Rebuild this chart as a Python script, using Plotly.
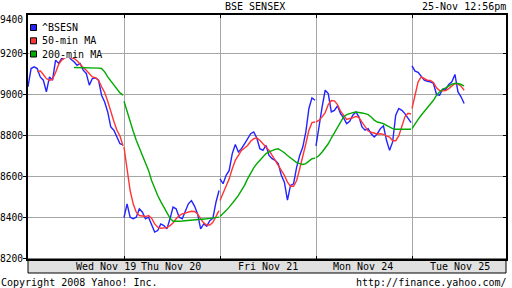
import plotly.graph_objects as go

# ---------------- data ----------------
DAYS = ["Wed Nov 19", "Thu Nov 20", "Fri Nov 21", "Mon Nov 24", "Tue Nov 25"]
SAMPLES_PER_DAY = 32          # samples spread over each trading session
SESSION_SPAN = 0.99           # fraction of the day slot covered by the samples

bsesn_wed = [9038, 9127, 9135, 9127, 9086, 9070, 9013, 9086, 9070, 9168, 9152, 9176, 9180, 9190, 9172, 9160,
             9143, 9152, 9119, 9103, 9046, 9078, 9082, 9070, 8997, 8964, 8915, 8842, 8826, 8793, 8760, 8755]
bsesn_thu = [8400, 8467, 8402, 8394, 8402, 8443, 8426, 8394, 8402, 8361, 8329, 8337, 8369, 8361, 8345, 8394,
             8451, 8443, 8402, 8394, 8434, 8467, 8483, 8456, 8418, 8345, 8369, 8358, 8385, 8397, 8475, 8532]
bsesn_fri = [8589, 8565, 8606, 8630, 8712, 8756, 8720, 8736, 8760, 8785, 8809, 8818, 8788, 8736, 8728, 8752,
             8703, 8687, 8679, 8663, 8606, 8573, 8485, 8557, 8565, 8646, 8703, 8744, 8818, 8932, 8984, 8972]
bsesn_mon = [8750, 8850, 8940, 9021, 9005, 8915, 8923, 8945, 8907, 8886, 8858, 8870, 8899, 8915, 8891, 8842,
             8826, 8834, 8809, 8793, 8809, 8834, 8847, 8777, 8728, 8769, 8899, 8932, 8923, 8907, 8883, 8863]
bsesn_tue = [9140, 9114, 9108, 9090, 9070, 9065, 9062, 9054, 9000, 8997, 9026, 9026, 9049, 9062, 9098, 9013,
             8989, 8956]

ma50_wed = [None, None, None, 9111, 9116, 9098, 9078, 9069, 9075, 9108, 9147, 9168, 9179, 9184, 9181, 9176,
            9165, 9147, 9132, 9119, 9103, 9086, 9082, 9070, 9038, 9010, 8967, 8915, 8870, 8826, 8798, 8749]
ma50_thu = [8744, 8630, 8532, 8467, 8426, 8410, 8407, 8405, 8410, 8397, 8369, 8353, 8348, 8348, 8351, 8361,
            8374, 8394, 8410, 8418, 8423, 8426, 8431, 8430, 8418, 8394, 8374, 8364, 8364, 8377, 8407, 8434]
ma50_fri = [8483, 8516, 8549, 8589, 8638, 8679, 8703, 8728, 8739, 8752, 8772, 8785, 8788, 8777, 8760, 8744,
            8728, 8703, 8679, 8654, 8630, 8606, 8573, 8553, 8553, 8581, 8638, 8695, 8760, 8826, 8863, 8866]
ma50_mon = [8866, 8875, 8891, 8912, 8951, 8971, 8969, 8951, 8919, 8896, 8879, 8883, 8886, 8894, 8888, 8866,
            8842, 8822, 8816, 8813, 8808, 8809, 8806, 8798, 8793, 8775, 8775, 8798, 8850, 8891, 8909, 8905]
ma50_tue = [8932, 8997, 9062, 9086, 9078, 9070, 9069, 9059, 9033, 9020, 9018, 9020, 9029, 9042, 9054, 9051,
            9041, 9021]

ma200_wed = [None] * 15 + [9132, 9132, 9132, 9132, 9132, 9131, 9131, 9130, 9129, 9127, 9111, 9086, 9065,
                           9045, 9025, 9008, 8997]
ma200_thu = [8967, 8915, 8870, 8821, 8777, 8739, 8703, 8671, 8630, 8581, 8540, 8508, 8478, 8451, 8423, 8397,
             8382, 8381, 8382, 8383, 8384, 8385, 8386, 8387, 8389, 8391, 8392, 8394, 8396, 8397, 8399, 8402]
ma200_fri = [8405, 8418, 8434, 8451, 8467, 8488, 8508, 8532, 8557, 8589, 8619, 8642, 8663, 8679, 8695, 8712,
             8720, 8728, 8733, 8736, 8728, 8716, 8703, 8690, 8677, 8668, 8663, 8659, 8663, 8674, 8687, 8690]
ma200_mon = [8692, 8703, 8720, 8739, 8760, 8788, 8814, 8837, 8866, 8891, 8902, 8909, 8912, 8915, 8914, 8910,
             8907, 8902, 8891, 8875, 8866, 8863, 8858, 8850, 8842, 8834, 8831, 8831, 8831, 8831, 8831, 8831]
ma200_tue = [8834, 8858, 8879, 8899, 8919, 8935, 8954, 8972, 8997, 9013, 9026, 9033, 9041, 9051, 9054, 9054,
             9049, 9042]

Y_TICKS = [8200, 8400, 8600, 8800, 9000, 9200]
Y_TICK_TEXT = ["8200", "8400", "8600", "8800", "9000", "9200"]
Y_TOP_LABEL = "9400"
TITLE = "BSE SENSEX"
STAMP = "25-Nov 12:56pm"
COPYRIGHT = "Copyright 2008 Yahoo! Inc."
URL = "http://finance.yahoo.com/"
SERIES_NAMES = ["^BSESN", "50-min MA", "200-min MA"]
COLORS = ["#2323ff", "#ff3535", "#00aa00"]

bsesn = [bsesn_wed, bsesn_thu, bsesn_fri, bsesn_mon, bsesn_tue]
ma50 = [ma50_wed, ma50_thu, ma50_fri, ma50_mon, ma50_tue]
ma200 = [ma200_wed, ma200_thu, ma200_fri, ma200_mon, ma200_tue]


def build(days):
    xs, ys = [], []
    for d, vals in enumerate(days):
        for i, v in enumerate(vals):
            xs.append(d + SESSION_SPAN * i / (SAMPLES_PER_DAY - 1))
            ys.append(v)
        xs.append(None)
        ys.append(None)
    return xs, ys


# ---------------- geometry helpers (pixel -> paper) ----------------
W, H = 512, 288
L, R, T, B = 28, 506, 15, 259
PW, PH = R - L, B - T
X_MAX = PW / 96.0            # one trading day = 96 px


def fx(px):
    return (px - L) / PW


def fy(py):
    return (B - py) / PH


FONT = "DejaVu Sans Mono"
TXT = dict(family=FONT, size=10, color="black")

fig = go.Figure()
for name, series, color in zip(SERIES_NAMES, [bsesn, ma50, ma200], COLORS):
    xs, ys = build(series)
    fig.add_trace(go.Scatter(x=xs, y=ys, mode="lines", name=name, showlegend=False,
                             line=dict(color=color, width=1.4), connectgaps=False,
                             hoverinfo="skip"))
# invisible trace so the right-hand tick axis is drawn
fig.add_trace(go.Scatter(x=[0.5], y=[8800], mode="markers", yaxis="y2", showlegend=False,
                         marker=dict(opacity=0), hoverinfo="skip"))

shapes = [
    # date band under the plot
    dict(type="rect", xref="paper", yref="paper", x0=0, x1=1, y0=fy(273), y1=fy(259),
         fillcolor="#e0e0e0", line=dict(color="black", width=1), layer="below"),
    # legend background
    dict(type="rect", xref="paper", yref="paper", x0=fx(29.5), x1=fx(101), y0=fy(58), y1=fy(16),
         fillcolor="white", line=dict(width=0), layer="above"),
]
legend_rows = [27.5, 40.8, 54.0]
annotations = []
for name, color, cy in zip(SERIES_NAMES, COLORS, legend_rows):
    shapes.append(dict(type="rect", xref="paper", yref="paper", x0=fx(30.5), x1=fx(36.5),
                       y0=fy(cy + 3), y1=fy(cy - 3), fillcolor=color,
                       line=dict(color="black", width=1), layer="above"))
    annotations.append(dict(text=name, x=fx(39.5), y=fy(cy), xref="paper", yref="paper",
                            xanchor="left", yanchor="middle", showarrow=False, font=TXT))

# y tick labels (placed on the y axis values)
for val, lab in zip(Y_TICKS, Y_TICK_TEXT):
    annotations.append(dict(text=lab, x=fx(25), y=val, xref="paper", yref="y",
                            xanchor="right", yanchor="middle", showarrow=False,
                            font=dict(family=FONT, size=9.6, color="black")))
annotations.append(dict(text=Y_TOP_LABEL, x=fx(25), y=fy(20), xref="paper", yref="paper",
                        xanchor="right", yanchor="middle", showarrow=False,
                        font=dict(family=FONT, size=9.6, color="black")))

day_centers = [105.5, 171, 268, 363, 460]
for lab, cx in zip(DAYS, day_centers):
    annotations.append(dict(text=lab, x=fx(cx), y=fy(266), xref="paper", yref="paper",
                            xanchor="center", yanchor="middle", showarrow=False, font=TXT))

annotations += [
    dict(text=TITLE, x=fx(254.5), y=fy(7), xref="paper", yref="paper", xanchor="center",
         yanchor="middle", showarrow=False, font=TXT),
    dict(text=STAMP, x=fx(508), y=fy(7), xref="paper", yref="paper", xanchor="right",
         yanchor="middle", showarrow=False, font=TXT),
    dict(text=COPYRIGHT, x=fx(-1), y=fy(282), xref="paper", yref="paper", xanchor="left",
         yanchor="middle", showarrow=False, font=TXT),
    dict(text=URL, x=fx(509), y=fy(282), xref="paper", yref="paper", xanchor="right",
         yanchor="middle", showarrow=False, font=TXT),
]

Y_RANGE = [8198, 9388]
fig.update_layout(
    width=W, height=H, autosize=False,
    margin=dict(l=L, r=W - R, t=T, b=H - B, pad=0, autoexpand=False),
    paper_bgcolor="white", plot_bgcolor="white",
    showlegend=False,
    xaxis=dict(range=[0, X_MAX], tickvals=[1, 2, 3, 4], showticklabels=False,
               showgrid=True, gridcolor="#a6a6a6", gridwidth=1, zeroline=False,
               ticks="inside", ticklen=3, tickcolor="black", tickwidth=1, automargin=False,
               showline=True, linecolor="black", linewidth=1.5, mirror="ticks"),
    yaxis=dict(range=Y_RANGE, tickvals=Y_TICKS, showticklabels=False, automargin=False,
               showgrid=True, gridcolor="#a6a6a6", gridwidth=1, zeroline=False,
               ticks="outside", ticklen=3, tickcolor="black", tickwidth=1,
               showline=True, linecolor="black", linewidth=1.5, mirror=True),
    yaxis2=dict(range=Y_RANGE, tickvals=Y_TICKS, overlaying="y", side="right", automargin=False,
                showticklabels=False, showgrid=False, zeroline=False, showline=False,
                ticks="inside", ticklen=3, tickcolor="black", tickwidth=1),
    shapes=shapes, annotations=annotations,
)

fig.write_html("out.html")
